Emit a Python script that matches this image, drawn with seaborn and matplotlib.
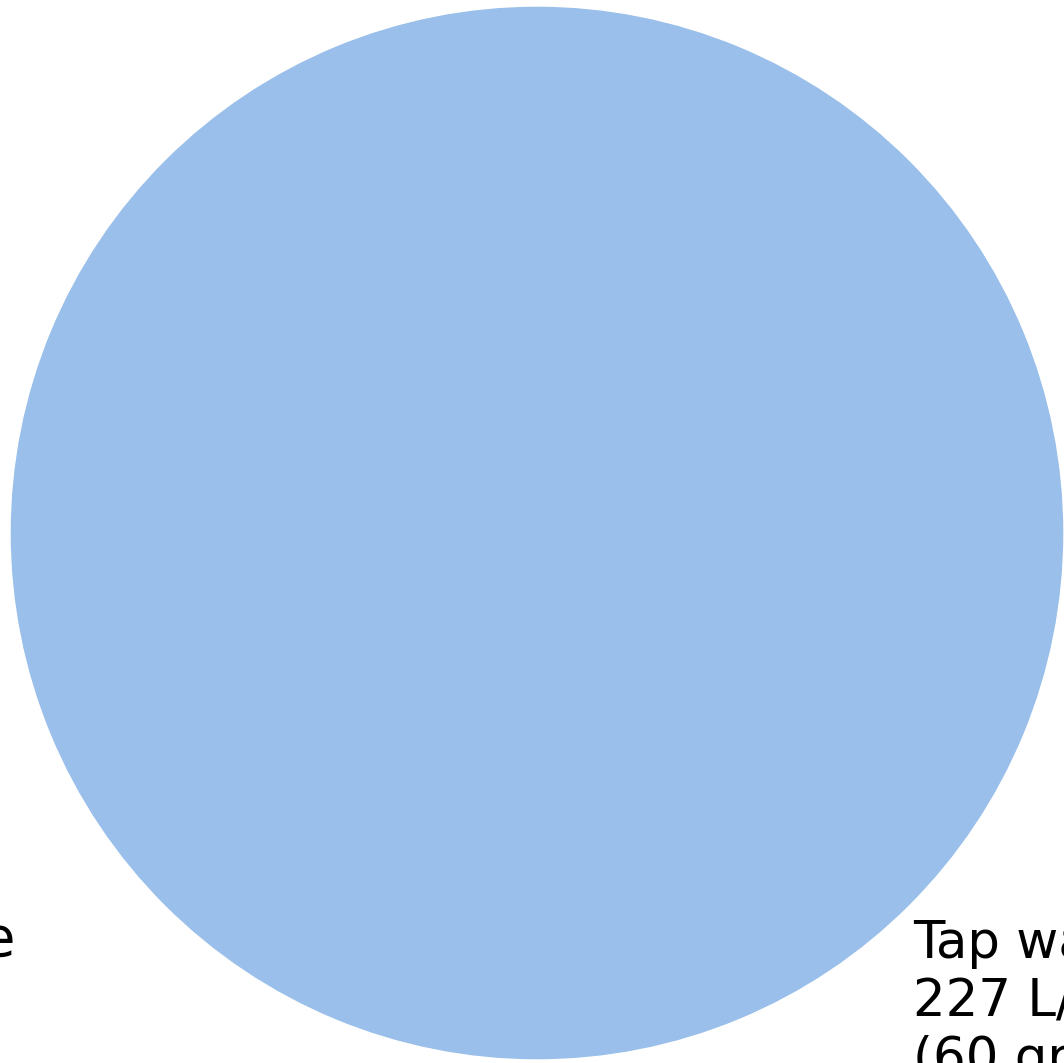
import matplotlib
matplotlib.use("Agg")
import matplotlib.pyplot as plt
import seaborn as sns

# Daily water use shares (only tap water shows as a wedge)
sources = ["Tap water"]
litres_per_day = [227]
gallons_per_day = [60]
slice_colors = ["#99bfea"]

# second label, sitting to the lower left (mostly outside the frame)
side_label = "Household use"

sns.set_theme(style="white")
plt.rcParams['font.family'] = ['DejaVu Sans']

W, H = 1064, 1063
fig = plt.figure(figsize=(W / 100, H / 100), dpi=100)
fig.patch.set_facecolor("white")

# pie centre (537, 533) px from top-left, radius 527 px
r_px = 527
cx, cy = 537, 533
ax = fig.add_axes([(cx - r_px) / W, (H - cy - r_px) / H, 2 * r_px / W, 2 * r_px / H])

labels = [f"{s}\n{l} L/d\n({g} gpd)" for s, l, g in zip(sources, litres_per_day, gallons_per_day)]
ax.pie(litres_per_day, labels=labels, colors=slice_colors, startangle=128.7,
       labeldistance=1.14, radius=1, textprops={"fontsize": 37, "color": "black"})
ax.set_aspect("auto")
ax.set_xlim(-1, 1)
ax.set_ylim(-1, 1)
ax.axis("off")

fig.text(16 / W, 1 - 941 / H, side_label, ha="right", va="center", fontsize=40, color="black")

fig.savefig("out.png", dpi=100, facecolor="white")
